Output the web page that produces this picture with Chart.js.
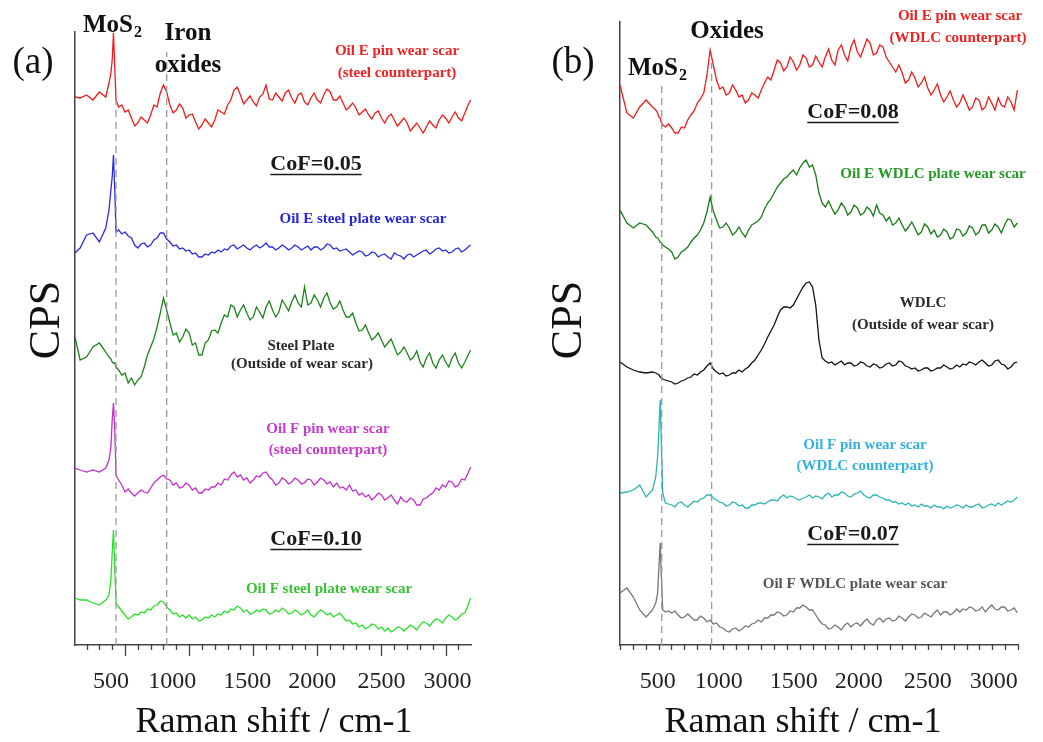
<!DOCTYPE html>
<html>
<head>
<meta charset="utf-8">
<script src="https://cdn.jsdelivr.net/npm/chart.js@4/dist/chart.umd.min.js"></script>
<style>
  body { margin: 0; background: #fff; }
  #wrap { position: relative; width: 1043px; height: 742px; }
  canvas { position: absolute; top: 0; }
</style>
</head>
<body>
<div id="wrap">
  <canvas id="chartA" width="521" height="742" style="left:0"></canvas>
  <canvas id="chartB" width="522" height="742" style="left:521px"></canvas>
</div>
<script>
// Raman shift (cm-1) sample positions, panel (a)
const X_A = [110, 150, 200, 250, 300, 350, 375, 390, 400, 410, 420, 430, 450, 475,
  500, 525, 550, 575, 600, 625, 650, 675, 700, 725,
  750, 775, 800, 825, 850, 875, 900, 925, 950, 975,
  1000, 1025, 1050, 1075, 1100, 1125, 1150, 1175, 1200, 1225,
  1250, 1275, 1300, 1325, 1350, 1375, 1400, 1425, 1450, 1475,
  1500, 1525, 1550, 1575, 1600, 1625, 1650, 1675, 1700, 1725,
  1750, 1775, 1800, 1825, 1850, 1875, 1900, 1925, 1950, 1975,
  2000, 2025, 2050, 2075, 2100, 2125, 2150, 2175, 2200, 2225,
  2250, 2275, 2300, 2325, 2350, 2375, 2400, 2425, 2450, 2475,
  2500, 2525, 2550, 2575, 2600, 2625, 2650, 2675, 2700, 2725,
  2750, 2775, 2800, 2825, 2850, 2875, 2900, 2925, 2950, 2975,
  3000, 3025, 3050, 3075, 3100, 3125, 3150, 3175,
  3195];

// panel (a) traces, CPS with vertical offsets already applied
const A_PIN_E = [548, 547, 550, 545, 553, 548, 562, 572, 585, 612, 578, 545, 538, 540,
  533, 535, 527, 519, 522, 528, 525, 522, 530, 540,
  538, 552, 560, 553, 540, 532, 535, 541, 537, 527,
  530, 531, 523, 516, 520, 526, 522, 518, 525, 535,
  533, 531, 540, 545, 555, 558, 550, 541, 545, 549,
  543, 539, 548, 551, 560, 546, 545, 552, 548, 544,
  552, 555, 547, 542, 550, 552, 543, 540, 547, 552,
  545, 542, 550, 556, 553, 545, 545, 549, 542, 535,
  538, 542, 537, 530, 533, 536, 530, 526, 532, 534,
  527, 522, 528, 531, 525, 519, 523, 527, 522, 514,
  518, 522, 517, 512, 518, 524, 520, 517, 525, 530,
  527, 522, 528, 533, 527, 524, 532, 540,
  545];
const A_PLATE_E = [392, 397, 410, 412, 403, 417, 435, 455, 468, 490, 455, 413, 415, 411,
  413, 409, 407, 400, 397, 401, 402, 398, 400, 405,
  407, 412, 412, 406, 403, 399, 400, 396, 397, 394,
  395, 391, 392, 388, 388, 391, 390, 393, 392, 395,
  393, 396, 395, 399, 400, 396, 398, 400, 397, 395,
  398, 400, 397, 399, 402, 398, 398, 395, 397, 400,
  398, 395, 397, 400, 398, 395, 397, 399, 395, 398,
  398, 395, 397, 401, 400, 396, 397, 394, 395, 396,
  393, 390, 392, 394, 393, 389, 390, 393, 392, 388,
  390, 391, 388, 386, 392, 390, 389, 386, 390, 391,
  388, 390, 392, 394, 395, 391, 393, 396, 397, 394,
  395, 392, 393, 396, 397, 393, 395, 398,
  400];
const A_STEEL = [308, 285, 288, 298, 302, 293, 288, 286, 283, 282, 282, 278, 275, 270,
  272, 262, 267, 260, 265, 268, 278, 290, 298, 306,
  318, 332, 347, 335, 322, 310, 312, 303, 308, 316,
  312, 300, 302, 290, 290, 302, 305, 314, 315, 312,
  322, 330, 328, 340, 338, 328, 335, 340, 332, 325,
  328, 338, 333, 327, 338, 344, 335, 328, 333, 345,
  340, 334, 343, 350, 342, 338, 358, 340, 342, 350,
  345, 338, 347, 352, 342, 336, 338, 344, 335, 328,
  328, 332, 322, 314, 315, 320, 312, 305, 308, 312,
  305, 298, 302, 306, 298, 290, 293, 298, 292, 285,
  288, 294, 283, 278, 287, 292, 282, 277, 285, 290,
  283, 278, 287, 292, 282, 277, 283, 290,
  295];
const A_PIN_F = [177, 175, 173, 175, 173, 177, 185, 198, 225, 242, 215, 170, 165, 160,
  153, 156, 152, 149, 152, 155, 153, 152, 157, 162,
  165, 168, 170, 166, 165, 160, 162, 157, 158, 162,
  160, 155, 157, 152, 152, 156, 155, 158, 158, 162,
  160, 166, 165, 170, 173, 168, 170, 165, 167, 162,
  165, 169, 168, 172, 173, 168, 165, 160, 162, 167,
  165, 161, 163, 167, 165, 161, 162, 166, 165, 160,
  163, 167, 165, 161, 163, 158, 162, 157, 158, 155,
  160, 154, 155, 150, 152, 148, 150, 145, 148, 152,
  150, 145, 147, 150, 145, 141, 148, 144, 143, 147,
  145, 140, 140, 146, 147, 150, 152, 157, 155, 160,
  158, 164, 163, 158, 160, 166, 165, 172,
  178];
const A_PLATE_F = [47, 45, 45, 42, 40, 45, 50, 65, 92, 115, 78, 42, 38, 34,
  30, 26, 28, 31, 30, 33, 32, 36, 35, 39,
  40, 44, 43, 38, 35, 31, 32, 28, 30, 27,
  30, 26, 28, 24, 25, 28, 27, 30, 28, 31,
  30, 34, 32, 36, 35, 39, 37, 33, 35, 31,
  32, 35, 33, 36, 35, 31, 32, 35, 33, 37,
  35, 31, 32, 35, 33, 30, 32, 35, 30, 28,
  32, 35, 33, 30, 32, 28, 30, 32, 28, 24,
  25, 21, 22, 18, 20, 16, 18, 21, 20, 16,
  18, 14, 17, 13, 15, 18, 17, 14, 17, 20,
  18, 15, 20, 23, 22, 19, 23, 26, 25, 22,
  27, 30, 28, 25, 27, 31, 32, 40,
  47];

// panel (b)
const X_B = [96, 150, 200, 250, 300, 350, 375, 390, 400, 410, 420, 430, 450, 475,
  500, 525, 550, 575, 600, 625, 650, 675, 700, 725,
  750, 775, 800, 825, 850, 875, 900, 925, 950, 975,
  1000, 1025, 1050, 1075, 1100, 1125, 1150, 1175, 1200, 1225,
  1250, 1275, 1300, 1325, 1350, 1375, 1400, 1425, 1450, 1475,
  1500, 1525, 1550, 1575, 1600, 1625, 1650, 1675, 1700, 1725,
  1750, 1775, 1800, 1825, 1850, 1875, 1900, 1925, 1950, 1975,
  2000, 2025, 2050, 2075, 2100, 2125, 2150, 2175, 2200, 2225,
  2250, 2275, 2300, 2325, 2350, 2375, 2400, 2425, 2450, 2475,
  2500, 2525, 2550, 2575, 2600, 2625, 2650, 2675, 2700, 2725,
  2750, 2775, 2800, 2825, 2850, 2875, 2900, 2925, 2950, 2975,
  3000, 3025, 3050, 3075, 3100, 3125, 3150, 3175,
  3200];
const B_PIN_E = [560, 532, 527, 538, 545, 538, 535, 532, 528, 527, 522, 520, 518, 521,
  517, 512, 512, 518, 517, 525, 530, 534, 542, 546,
  552, 570, 595, 580, 565, 556, 558, 550, 552, 560,
  555, 548, 550, 542, 545, 552, 550, 547, 555, 562,
  568, 565, 575, 585, 582, 574, 578, 588, 583, 575,
  580, 590, 587, 578, 580, 589, 583, 578, 588, 596,
  585, 580, 595, 600, 590, 584, 598, 605, 593, 588,
  597, 606, 602, 590, 592, 600, 598, 588, 583, 578,
  573, 580, 572, 562, 565, 573, 567, 558, 562, 568,
  557, 550, 555, 561, 550, 543, 548, 554, 545, 538,
  542, 550, 543, 535, 538, 547, 545, 535, 538, 548,
  542, 535, 547, 540, 538, 548, 543, 535,
  555];
const B_PLATE_E = [435, 422, 417, 422, 420, 413, 408, 407, 405, 403, 402, 400, 398, 396,
  393, 386, 388, 393, 395, 398, 403, 407, 410, 415,
  422, 433, 448, 434, 425, 417, 418, 422, 417, 410,
  413, 418, 412, 408, 415, 420, 422, 424, 428, 436,
  442, 446, 452, 458, 462, 466, 468, 472, 475, 470,
  477, 482, 485, 478, 480, 470, 452, 442, 438, 444,
  437, 431, 435, 442, 438, 430, 433, 440, 437, 430,
  432, 438, 435, 429, 440, 432, 430, 424, 428, 420,
  422, 427, 420, 414, 418, 423, 417, 410, 413, 421,
  418, 411, 415, 408, 410, 416, 413, 406, 408, 416,
  415, 409, 412, 419, 417, 410, 413, 420, 420, 412,
  415, 421, 418, 412, 420, 426, 425, 418,
  422];
const B_WDLC = [283, 278, 275, 273, 272, 273, 272, 271, 270, 268, 267, 266, 265, 264,
  263, 261, 262, 264, 265, 267, 268, 271, 270, 273,
  275, 279, 282, 276, 273, 271, 272, 269, 270, 272,
  272, 275, 273, 276, 278, 282, 285, 290, 295, 301,
  308, 314, 320, 328, 335, 338, 338, 337, 340, 346,
  352, 358, 362, 363, 358, 340, 305, 287, 284, 282,
  283, 280, 282, 284, 280, 282, 282, 279, 280, 283,
  282, 279, 278, 281, 280, 277, 278, 281, 282, 279,
  280, 284, 283, 279, 278, 276, 277, 274, 275, 277,
  277, 274, 275, 277, 277, 280, 278, 276, 277, 280,
  278, 281, 280, 283, 282, 280, 283, 285, 282, 279,
  280, 284, 285, 281, 280, 276, 278, 282,
  283];
const B_PIN_F = [152, 153, 155, 160, 148, 155, 168, 188, 215, 245, 198, 152, 142, 141,
  140, 138, 142, 143, 140, 138, 141, 144, 143, 146,
  147, 150, 150, 147, 145, 143, 142, 139, 140, 143,
  142, 139, 140, 137, 137, 140, 140, 142, 142, 141,
  143, 145, 145, 144, 148, 150, 147, 149, 148, 146,
  145, 147, 148, 150, 147, 149, 148, 146, 150, 152,
  148, 150, 150, 153, 152, 149, 148, 151, 152, 154,
  150, 148, 147, 150, 150, 148, 147, 145, 145, 143,
  143, 141, 142, 140, 142, 139, 140, 138, 141, 139,
  139, 137, 140, 138, 138, 136, 139, 137, 138, 140,
  139, 137, 140, 138, 138, 140, 141, 137, 138, 140,
  141, 139, 142, 140, 142, 144, 143, 145,
  148];
const B_PLATE_F = [52, 57, 48, 35, 28, 35, 42, 52, 78, 102, 65, 35, 33, 34,
  32, 34, 30, 27, 28, 31, 28, 25, 25, 29,
  27, 23, 25, 21, 22, 18, 17, 14, 13, 16,
  17, 14, 16, 19, 18, 21, 22, 25, 23, 27,
  27, 30, 30, 33, 32, 29, 30, 34, 33, 37,
  37, 40, 38, 35, 35, 30, 25, 21, 20, 16,
  17, 20, 18, 15, 20, 22, 18, 21, 22, 19,
  23, 26, 22, 20, 25, 27, 23, 26, 27, 24,
  25, 29, 27, 24, 28, 31, 30, 27, 28, 32,
  30, 28, 32, 35, 30, 33, 33, 30, 32, 36,
  33, 36, 35, 38, 37, 34, 35, 38, 33, 37,
  40, 36, 35, 38, 38, 34, 35, 37,
  32];

// dashed reference lines (position, top in CPS)
const A_MARKERS = [430, 825];
const A_MARKER_TOPS = [545, 593];
const B_MARKERS = [422, 812];
const B_MARKER_TOPS = [560, 582];

const TICK_LABELS = [500, 1000, 1500, 2000, 2500, 3000];
const TICK_NUDGE = [-14, -17, -6, -5, 0, 2];

const SERIF = '"Liberation Serif", "DejaVu Serif", serif';

function pts(xs, ys) {
  return xs.map((x, i) => ({ x: x, y: ys[i] }));
}

function trace(xs, ys, color) {
  return { data: pts(xs, ys), borderColor: color, borderWidth: 1.3, pointRadius: 0, tension: 0 };
}

function markers(xs, tops) {
  return xs.map((x, i) => ({
    data: [{ x: x, y: 0 }, { x: x, y: tops[i] }],
    borderColor: '#9a9a9a', borderWidth: 1.3, borderDash: [7, 5], pointRadius: 0
  }));
}

// draws ticks, tick labels and all the annotation text
const decor = {
  id: 'decor',
  afterDraw(chart, args, opts) {
    const ctx = chart.ctx;
    const xs = chart.scales.x;
    const bottom = chart.chartArea.bottom;
    const off = opts.offset || 0;
    ctx.save();
    ctx.strokeStyle = '#444';
    ctx.lineWidth = 1.3;
    xs.ticks.forEach(t => {
      const px = Math.round(xs.getPixelForValue(t.value)) + 0.5;
      const len = t.value % 500 === 0 ? 11 : 5;
      ctx.beginPath();
      ctx.moveTo(px, bottom);
      ctx.lineTo(px, bottom + len);
      ctx.stroke();
    });
    ctx.fillStyle = '#222';
    ctx.textAlign = 'center';
    ctx.textBaseline = 'alphabetic';
    ctx.font = '24px ' + SERIF;
    TICK_LABELS.forEach((v, i) => {
      ctx.fillText(String(v), xs.getPixelForValue(v) + TICK_NUDGE[i], 688);
    });

    opts.texts.forEach(t => {
      ctx.font = (t.bold ? 'bold ' : '') + t.size + 'px ' + SERIF;
      ctx.fillStyle = t.color || '#111';
      const x = t.x - off;
      if (t.rotate) {
        ctx.save();
        ctx.translate(x, t.y);
        ctx.rotate(-Math.PI / 2);
        ctx.textAlign = 'center';
        ctx.textBaseline = 'middle';
        ctx.fillText(t.text, 0, 0);
        ctx.restore();
        return;
      }
      if (t.sub) {
        ctx.textAlign = 'left';
        ctx.fillText(t.text, x, t.y);
        const w = ctx.measureText(t.text).width;
        ctx.font = (t.bold ? 'bold ' : '') + Math.round(t.size * 0.62) + 'px ' + SERIF;
        ctx.fillText(t.sub, x + w + 1, t.y + 5);
        return;
      }
      ctx.textAlign = 'center';
      ctx.fillText(t.text, x, t.y);
      if (t.underline) {
        const w = ctx.measureText(t.text).width;
        ctx.strokeStyle = ctx.fillStyle;
        ctx.lineWidth = 1.5;
        ctx.beginPath();
        ctx.moveTo(x - w / 2, t.y + 4.5);
        ctx.lineTo(x + w / 2, t.y + 4.5);
        ctx.stroke();
      }
    });
    ctx.restore();
  }
};

const TEXTS_A = [
  { text: '(a)', x: 33, y: 73, size: 37 },
  { text: 'MoS', sub: '2', x: 83, y: 32, size: 25, bold: true },
  { text: 'Iron', x: 188, y: 40, size: 25, bold: true },
  { text: 'oxides', x: 188, y: 72, size: 25, bold: true },
  { text: 'Oil E pin wear scar', x: 397, y: 55, size: 15, bold: true, color: '#ee2222' },
  { text: '(steel counterpart)', x: 397, y: 77, size: 15, bold: true, color: '#ee2222' },
  { text: 'CoF=0.05', x: 316, y: 170, size: 22, bold: true, underline: true, color: '#1a1a1a' },
  { text: 'Oil E steel plate wear scar', x: 363, y: 223, size: 15, bold: true, color: '#2626d8' },
  { text: 'Steel Plate', x: 301, y: 350, size: 15, bold: true, color: '#2a2a2a' },
  { text: '(Outside of wear scar)', x: 302, y: 368, size: 15, bold: true, color: '#2a2a2a' },
  { text: 'Oil F pin wear scar', x: 328, y: 433, size: 15, bold: true, color: '#c83ad2' },
  { text: '(steel counterpart)', x: 328, y: 454, size: 15, bold: true, color: '#c83ad2' },
  { text: 'CoF=0.10', x: 316, y: 545, size: 22, bold: true, underline: true, color: '#1a1a1a' },
  { text: 'Oil F steel plate wear scar', x: 329, y: 593, size: 15, bold: true, color: '#36c436' },
  { text: 'CPS', x: 47, y: 320, size: 44, rotate: true },
  { text: 'Raman shift / cm-1', x: 274, y: 732, size: 36 }
];

const TEXTS_B = [
  { text: '(b)', x: 573, y: 73, size: 37 },
  { text: 'Oxides', x: 727, y: 38, size: 25, bold: true },
  { text: 'MoS', sub: '2', x: 628, y: 75, size: 25, bold: true },
  { text: 'Oil E pin wear scar', x: 960, y: 20, size: 15, bold: true, color: '#ee2222' },
  { text: '(WDLC counterpart)', x: 958, y: 42, size: 15, bold: true, color: '#ee2222' },
  { text: 'CoF=0.08', x: 853, y: 118, size: 22, bold: true, underline: true, color: '#1a1a1a' },
  { text: 'Oil E WDLC plate wear scar', x: 933, y: 178, size: 15, bold: true, color: '#239a23' },
  { text: 'WDLC', x: 923, y: 307, size: 15, bold: true, color: '#2a2a2a' },
  { text: '(Outside of wear scar)', x: 923, y: 329, size: 15, bold: true, color: '#2a2a2a' },
  { text: 'Oil F pin wear scar', x: 865, y: 449, size: 15, bold: true, color: '#33b2e2' },
  { text: '(WDLC counterpart)', x: 865, y: 470, size: 15, bold: true, color: '#33b2e2' },
  { text: 'CoF=0.07', x: 853, y: 540, size: 22, bold: true, underline: true, color: '#1a1a1a' },
  { text: 'Oil F WDLC plate wear scar', x: 855, y: 588, size: 15, bold: true, color: '#555' },
  { text: 'CPS', x: 569, y: 320, size: 44, rotate: true },
  { text: 'Raman shift / cm-1', x: 803, y: 732, size: 36 }
];

function makeChart(id, datasets, xMin, xMax, yMax, padding, texts, offset) {
  return new Chart(document.getElementById(id), {
    type: 'line',
    data: { datasets: datasets },
    options: {
      responsive: false,
      animation: false,
      layout: { padding: padding },
      plugins: {
        legend: { display: false },
        tooltip: { enabled: false },
        decor: { texts: texts, offset: offset }
      },
      scales: {
        x: {
          type: 'linear', min: xMin, max: xMax,
          ticks: { display: false, stepSize: 100, includeBounds: false },
          grid: { display: false, drawTicks: false },
          border: { display: true, color: '#444', width: 1.5 },
          afterFit: s => { s.height = 97; }
        },
        y: {
          min: 0, max: yMax,
          ticks: { display: false },
          grid: { display: false, drawTicks: false },
          border: { display: true, color: '#444', width: 1.5 },
          afterFit: s => { s.width = 0; }
        }
      }
    },
    plugins: [decor]
  });
}

makeChart('chartA', [
  ...markers(A_MARKERS, A_MARKER_TOPS),
  trace(X_A, A_PIN_E, '#f21a1a'),
  trace(X_A, A_PLATE_E, '#2a2ae6'),
  trace(X_A, A_STEEL, '#1b851b'),
  trace(X_A, A_PIN_F, '#c22ecc'),
  trace(X_A, A_PLATE_F, '#2ae02a')
], 110, 3198, 613, { left: 75, right: 50, top: 32, bottom: 0 }, TEXTS_A, 0);

makeChart('chartB', [
  ...markers(B_MARKERS, B_MARKER_TOPS),
  trace(X_B, B_PIN_E, '#f21a1a'),
  trace(X_B, B_PLATE_E, '#167a16'),
  trace(X_B, B_WDLC, '#111111'),
  trace(X_B, B_PIN_F, '#2ab4b4'),
  trace(X_B, B_PLATE_F, '#777777')
], 96, 3205, 623, { left: 99, right: 25, top: 22, bottom: 0 }, TEXTS_B, 521);
</script>
</body>
</html>
